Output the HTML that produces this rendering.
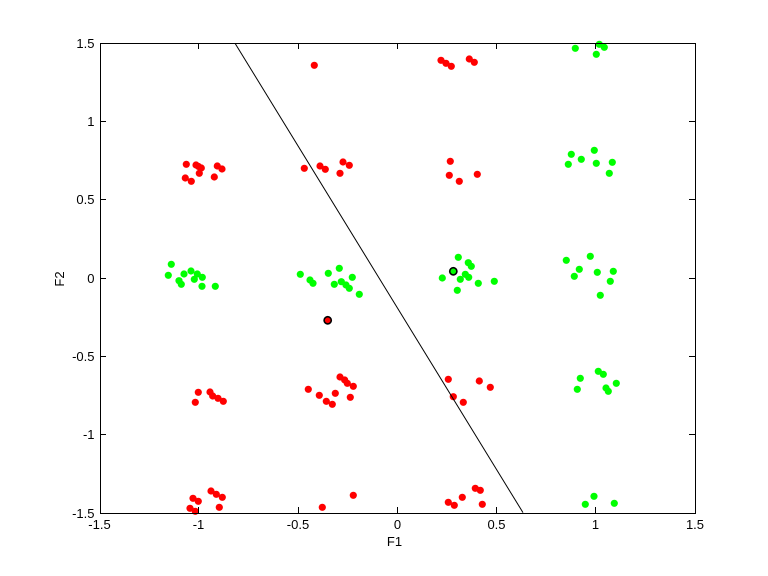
<!DOCTYPE html>
<html>
<head>
<meta charset="utf-8">
<style>
html,body{margin:0;padding:0;background:#fff;}
svg{display:block;}
text{font-family:"Liberation Sans",Helvetica,Arial,sans-serif;font-size:13px;fill:#000;}
</style>
</head>
<body>
<svg width="768" height="576" viewBox="0 0 768 576" xmlns="http://www.w3.org/2000/svg">
<rect x="0" y="0" width="768" height="576" fill="#fff"/>
<rect x="100" y="43" width="595" height="470" fill="#fff"/>
<g fill="#ff0000">
<circle cx="314.3" cy="65.3" r="3.6"/>
<circle cx="186.3" cy="164.3" r="3.6"/><circle cx="196" cy="165" r="3.6"/><circle cx="198.5" cy="166.5" r="3.6"/><circle cx="201.3" cy="168" r="3.6"/><circle cx="199.3" cy="173.3" r="3.6"/><circle cx="217.3" cy="166" r="3.6"/><circle cx="222" cy="169" r="3.6"/><circle cx="185.3" cy="178" r="3.6"/><circle cx="191.3" cy="181.3" r="3.6"/><circle cx="214.3" cy="177" r="3.6"/>
<circle cx="304.3" cy="168.3" r="3.6"/><circle cx="320" cy="166" r="3.6"/><circle cx="325.3" cy="169.3" r="3.6"/><circle cx="343" cy="162" r="3.6"/><circle cx="349.3" cy="165.3" r="3.6"/><circle cx="340" cy="173.3" r="3.6"/>
<circle cx="441" cy="60.3" r="3.6"/><circle cx="446" cy="63.3" r="3.6"/><circle cx="451.3" cy="66.3" r="3.6"/><circle cx="469.3" cy="59" r="3.6"/><circle cx="474.3" cy="62.3" r="3.6"/>
<circle cx="450.3" cy="161.3" r="3.6"/><circle cx="449.3" cy="175.3" r="3.6"/><circle cx="459.3" cy="181.3" r="3.6"/><circle cx="477.3" cy="174.3" r="3.6"/>
<circle cx="198.3" cy="392.3" r="3.6"/><circle cx="195.3" cy="402.3" r="3.6"/><circle cx="210" cy="392" r="3.6"/><circle cx="212.7" cy="396" r="3.6"/><circle cx="218" cy="398.3" r="3.6"/><circle cx="223.3" cy="401.3" r="3.6"/>
<circle cx="308.3" cy="389.3" r="3.6"/><circle cx="319.3" cy="395.3" r="3.6"/><circle cx="326.3" cy="401.3" r="3.6"/><circle cx="332.3" cy="404.3" r="3.6"/><circle cx="335.3" cy="393.3" r="3.6"/><circle cx="340" cy="377" r="3.6"/><circle cx="344.7" cy="380" r="3.6"/><circle cx="347.3" cy="383.3" r="3.6"/><circle cx="353.3" cy="386.3" r="3.6"/><circle cx="350.3" cy="397.3" r="3.6"/>
<circle cx="193" cy="498.3" r="3.6"/><circle cx="198.3" cy="501.3" r="3.6"/><circle cx="190" cy="508.3" r="3.6"/><circle cx="195.3" cy="511.3" r="3.6"/><circle cx="211" cy="491" r="3.6"/><circle cx="216.3" cy="494.3" r="3.6"/><circle cx="222.3" cy="497.3" r="3.6"/><circle cx="219.3" cy="507.3" r="3.6"/>
<circle cx="322.3" cy="507.3" r="3.6"/><circle cx="353.3" cy="495.3" r="3.6"/>
<circle cx="448.3" cy="379.3" r="3.6"/><circle cx="453.3" cy="396.7" r="3.6"/><circle cx="463.3" cy="402.3" r="3.6"/><circle cx="479.3" cy="381" r="3.6"/><circle cx="490.3" cy="387.3" r="3.6"/>
<circle cx="448.3" cy="502.3" r="3.6"/><circle cx="454.3" cy="505.3" r="3.6"/><circle cx="462.3" cy="497.3" r="3.6"/><circle cx="475.3" cy="488.3" r="3.6"/><circle cx="480.3" cy="490.3" r="3.6"/><circle cx="482.3" cy="504.3" r="3.6"/>
</g>
<g fill="#00ff00">
<circle cx="575.3" cy="48.3" r="3.6"/><circle cx="599.3" cy="44.3" r="3.6"/><circle cx="604.3" cy="47.3" r="3.6"/><circle cx="596.3" cy="54.3" r="3.6"/>
<circle cx="171.3" cy="264.3" r="3.6"/><circle cx="168.3" cy="275.3" r="3.6"/><circle cx="184" cy="274" r="3.6"/><circle cx="191" cy="271" r="3.6"/><circle cx="197.3" cy="274" r="3.6"/><circle cx="202.3" cy="277.3" r="3.6"/><circle cx="194.3" cy="279.3" r="3.6"/><circle cx="179" cy="280.7" r="3.6"/><circle cx="181.3" cy="284.3" r="3.6"/><circle cx="202" cy="286.3" r="3.6"/><circle cx="215.3" cy="286.3" r="3.6"/>
<circle cx="300.3" cy="274.3" r="3.6"/><circle cx="310" cy="280" r="3.6"/><circle cx="313" cy="283.3" r="3.6"/><circle cx="328.3" cy="273.3" r="3.6"/><circle cx="339.3" cy="268.3" r="3.6"/><circle cx="334.3" cy="284.3" r="3.6"/><circle cx="341.3" cy="281.7" r="3.6"/><circle cx="346" cy="285" r="3.6"/><circle cx="349.3" cy="288.3" r="3.6"/><circle cx="352.3" cy="277.3" r="3.6"/><circle cx="359.3" cy="294.3" r="3.6"/>
<circle cx="571.3" cy="154.3" r="3.6"/><circle cx="594.3" cy="150.3" r="3.6"/><circle cx="581.3" cy="159.3" r="3.6"/><circle cx="568.3" cy="164.3" r="3.6"/><circle cx="596.3" cy="163.3" r="3.6"/><circle cx="612.3" cy="162.3" r="3.6"/><circle cx="609.3" cy="173.3" r="3.6"/>
<circle cx="458.3" cy="257.3" r="3.6"/><circle cx="468.3" cy="262.7" r="3.6"/><circle cx="471.3" cy="266.3" r="3.6"/><circle cx="442.3" cy="278" r="3.6"/><circle cx="460.3" cy="279.3" r="3.6"/><circle cx="465.3" cy="274.3" r="3.6"/><circle cx="468.7" cy="277.3" r="3.6"/><circle cx="478.3" cy="283.3" r="3.6"/><circle cx="494.3" cy="281.3" r="3.6"/><circle cx="457.3" cy="290.3" r="3.6"/>
<circle cx="566.3" cy="260.3" r="3.6"/><circle cx="590.3" cy="256.3" r="3.6"/><circle cx="579.3" cy="269.3" r="3.6"/><circle cx="574.3" cy="276.3" r="3.6"/><circle cx="597.3" cy="272.3" r="3.6"/><circle cx="613.3" cy="271.3" r="3.6"/><circle cx="610.3" cy="281.3" r="3.6"/><circle cx="600.3" cy="295.3" r="3.6"/>
<circle cx="580.3" cy="378.3" r="3.6"/><circle cx="598.3" cy="371.3" r="3.6"/><circle cx="603.3" cy="374.3" r="3.6"/><circle cx="577.3" cy="389.3" r="3.6"/><circle cx="606" cy="388" r="3.6"/><circle cx="608.3" cy="391.3" r="3.6"/><circle cx="616.3" cy="383.3" r="3.6"/>
<circle cx="594" cy="496.3" r="3.6"/><circle cx="585.3" cy="504.3" r="3.6"/><circle cx="614.3" cy="503.3" r="3.6"/>
</g>
<circle cx="327.7" cy="320.3" r="3.6" fill="#ff0000" stroke="#000" stroke-width="1.6"/>
<circle cx="453.3" cy="271.3" r="3.6" fill="#00ff00" stroke="#000" stroke-width="1.6"/>
<line x1="235" y1="43.2" x2="523" y2="512.6" stroke="#000" stroke-width="1"/>
<g stroke="#000" stroke-width="1" fill="none">
<rect x="100.5" y="43.5" width="595" height="470"/>
<path d="M100.5 513V507M198.5 513V507M298.5 513V507M397.5 513V507M496.5 513V507M595.5 513V507M695.5 513V507"/>
<path d="M100.5 43V49M198.5 43V49M298.5 43V49M397.5 43V49M496.5 43V49M595.5 43V49M695.5 43V49"/>
<path d="M100 513.5H106M100 434.5H106M100 356.5H106M100 278.5H106M100 199.5H106M100 121.5H106M100 43.5H106"/>
<path d="M695 513.5H689M695 434.5H689M695 356.5H689M695 278.5H689M695 199.5H689M695 121.5H689M695 43.5H689"/>
</g>
<g text-anchor="middle">
<text x="99.5" y="529">-1.5</text>
<text x="198.5" y="529">-1</text>
<text x="298" y="529">-0.5</text>
<text x="397.5" y="529">0</text>
<text x="496.5" y="529">0.5</text>
<text x="595.5" y="529">1</text>
<text x="695" y="529">1.5</text>
</g>
<g text-anchor="end">
<text x="94.5" y="518">-1.5</text>
<text x="94.5" y="439">-1</text>
<text x="94.5" y="361">-0.5</text>
<text x="94.5" y="283">0</text>
<text x="94.5" y="204">0.5</text>
<text x="94.5" y="126">1</text>
<text x="94.5" y="48">1.5</text>
</g>
<text x="394.5" y="546" text-anchor="middle">F1</text>
<text x="0" y="0" text-anchor="middle" transform="translate(64,279) rotate(-90)">F2</text>
</svg>
</body>
</html>
